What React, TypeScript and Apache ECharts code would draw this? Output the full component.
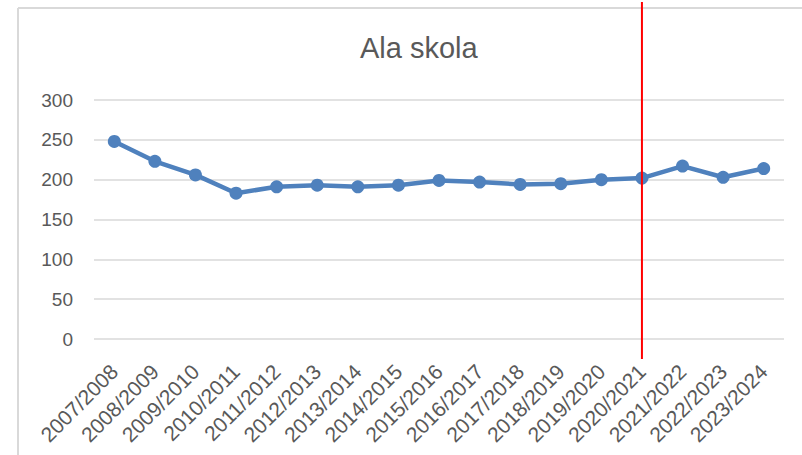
import React, { useEffect, useRef } from "react";
import * as echarts from "echarts";

const categories = [
  "2007/2008", "2008/2009", "2009/2010", "2010/2011", "2011/2012", "2012/2013",
  "2013/2014", "2014/2015", "2015/2016", "2016/2017", "2017/2018", "2018/2019",
  "2019/2020", "2020/2021", "2021/2022", "2022/2023", "2023/2024",
];
const values = [248, 223, 206, 183, 191, 193, 191, 193, 199, 197, 194, 195, 200, 202, 217, 203, 214];
const markerCategory = "2020/2021";
const titleText = "Ala skola";

export default function App() {
  const ref = useRef<HTMLDivElement>(null);
  useEffect(() => {
    if (!ref.current) return;
    const chart = echarts.init(ref.current, undefined, { renderer: "svg" });
    const font = "'Liberation Sans', Arial, sans-serif";
    chart.setOption({
      animation: false,
      backgroundColor: "#ffffff",
      title: {
        text: titleText,
        left: 355,
        top: 28,
        textStyle: { fontFamily: font, fontSize: 29, fontWeight: "normal", color: "#595959" },
      },
      grid: { left: 94, right: 18, top: 100, bottom: 116 },
      xAxis: {
        type: "category",
        data: categories,
        boundaryGap: true,
        axisLine: { show: false },
        axisTick: { show: false },
        axisLabel: {
          rotate: 45,
          interval: 0,
          margin: 29,
          fontFamily: font,
          fontSize: 21,
          color: "#595959",
        },
      },
      yAxis: {
        type: "value",
        min: 0,
        max: 300,
        interval: 50,
        axisLine: { show: false },
        axisTick: { show: false },
        axisLabel: { margin: 21, fontFamily: font, fontSize: 19, color: "#595959" },
        splitLine: { lineStyle: { color: "#d9d9d9", width: 1.5 } },
      },
      series: [
        {
          type: "line",
          data: values,
          symbol: "circle",
          symbolSize: 13,
          lineStyle: { color: "#4F81BD", width: 4.5 },
          itemStyle: { color: "#4F81BD" },
        },
      ],
    });
    const x = chart.convertToPixel({ xAxisIndex: 0 }, markerCategory) as number;
    chart.setOption({
      graphic: [
        {
          type: "line",
          shape: { x1: 18, y1: 8, x2: 802, y2: 8 },
          style: { stroke: "#d9d9d9", lineWidth: 2 },
          silent: true,
        },
        {
          type: "line",
          shape: { x1: 18, y1: 8, x2: 18, y2: 455 },
          style: { stroke: "#d9d9d9", lineWidth: 2 },
          silent: true,
        },
        {
          type: "line",
          shape: { x1: x, y1: 2, x2: x, y2: 359 },
          style: { stroke: "#ff0000", lineWidth: 2 },
          silent: true,
          z: 100,
        },
      ],
    });
    return () => chart.dispose();
  }, []);
  return <div ref={ref} style={{ position: "fixed", left: 0, top: 0, width: 802, height: 455 }} />;
}
